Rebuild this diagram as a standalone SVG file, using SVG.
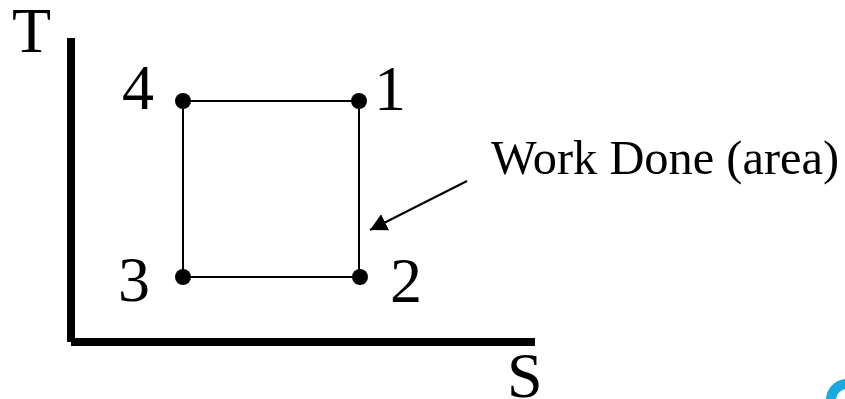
<svg xmlns="http://www.w3.org/2000/svg" width="845" height="399" viewBox="0 0 845 399">
<style>
text{font-family:"Liberation Serif","Times New Roman",serif;fill:#000}
.big{font-size:64px}
.lab{font-size:48.4px}
.ax{stroke:#000;stroke-width:8;fill:none}
.ln{stroke:#000;stroke-width:2;fill:none}
.dot{fill:#000}
</style>
<defs><marker id="ah" markerUnits="userSpaceOnUse" markerWidth="20" markerHeight="20" refX="17" refY="9" orient="auto"><path d="M0 0L17 9L0 18Z" fill="#000"/></marker></defs>
<rect width="845" height="399" fill="#fff"/>
<g id="connectors">
<path class="ax" d="M71 38V342"/>
<path class="ax" d="M71 342H535"/>
<path class="ln" d="M183 101H359V277H183Z"/>
<path class="ln" d="M467 181L370 230" marker-end="url(#ah)"/>
</g>
<g id="n1"><circle class="dot" cx="359" cy="101" r="8"/><text class="big" x="374" y="110">1</text></g>
<g id="n2"><circle class="dot" cx="360" cy="277" r="8"/><text class="big" x="390" y="302">2</text></g>
<g id="n3"><circle class="dot" cx="183" cy="277" r="8"/><text class="big" x="118" y="301">3</text></g>
<g id="n4"><circle class="dot" cx="183" cy="101" r="8"/><text class="big" x="122" y="109">4</text></g>
<g id="axisT"><text class="big" x="12" y="52">T</text></g>
<g id="axisS"><text class="big" x="507" y="397">S</text></g>
<g id="label"><text class="lab" x="491" y="174">Work Done (area)</text></g>
<path id="mark" d="M845 379A21 21 0 0 0 826 399H836A13 13 0 0 1 845 389Z" fill="#1ba9e1"/>
</svg>
